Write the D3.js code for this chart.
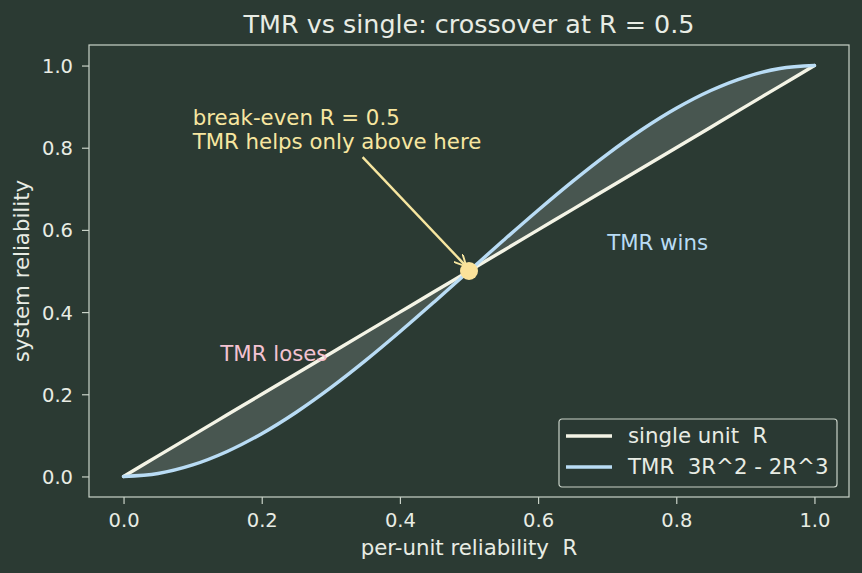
<!DOCTYPE html>
<html>
<head>
<meta charset="utf-8">
<script src="https://cdn.jsdelivr.net/npm/d3@7"></script>
<style>
  body { margin: 0; background: #2b3a33; }
  svg { display: block; font-family: "DejaVu Sans", sans-serif; }
  svg text { white-space: pre; }
</style>
</head>
<body>
<svg width="862" height="573"></svg>
<script>
// per-unit reliability samples and system reliability
var rValues = [0, 0.05, 0.1, 0.15, 0.2, 0.25, 0.3, 0.35, 0.4, 0.45, 0.5,
  0.55, 0.6, 0.65, 0.7, 0.75, 0.8, 0.85, 0.9, 0.95, 1];
var singleValues = [0, 0.05, 0.1, 0.15, 0.2, 0.25, 0.3, 0.35, 0.4, 0.45, 0.5,
  0.55, 0.6, 0.65, 0.7, 0.75, 0.8, 0.85, 0.9, 0.95, 1];
var tmrValues = [0, 0.00725, 0.028, 0.06075, 0.104, 0.15625, 0.216, 0.28175, 0.352, 0.42525, 0.5,
  0.57475, 0.648, 0.71825, 0.784, 0.84375, 0.896, 0.93925, 0.972, 0.99275, 1];
var xTicks = [0, 0.2, 0.4, 0.6, 0.8, 1.0];
var yTicks = [0, 0.2, 0.4, 0.6, 0.8, 1.0];
var seriesNames = ["single unit  R", "TMR  3R^2 - 2R^3"];
var breakEven = [0.5, 0.5];

var bg = "#2b3a33", fg = "#e8ece4", spine = "#c9d2c8";
var cSingle = "#f4f4e6", cTmr = "#b9dcf5", cNote = "#f7e6a0", cDot = "#fbe29a";
var fsTick = 19.5, fsLabel = 21.3, fsTitle = 25.4;

var svg = d3.select("svg"),
margin = {top: 45, right: 13, bottom: 76, left: 89},
width = +svg.attr("width") - margin.left - margin.right,
height = +svg.attr("height") - margin.top - margin.bottom,
g = svg.append("g").attr("transform", "translate(" + margin.left + "," + margin.top + ")");

svg.insert("rect", ":first-child").attr("width", 862).attr("height", 573).attr("fill", bg);

var x = d3.scaleLinear().domain([-0.05, 1.05]).range([0, width]);
var y = d3.scaleLinear().domain([-0.05, 1.05]).range([height, 0]);

var pts = rValues.map(function(r, i) { return {r: r, s: singleValues[i], t: tmrValues[i]}; });

// shaded gap between curves
g.append("path")
.datum(pts)
.attr("fill", "#e0eaea")
.attr("fill-opacity", 0.16)
.attr("d", d3.area()
  .x(function(d) { return x(d.r); })
  .y0(function(d) { return y(d.s); })
  .y1(function(d) { return y(d.t); })
  .curve(d3.curveCatmullRom));

var line = function(key) {
  return d3.line().x(function(d) { return x(d.r); }).y(function(d) { return y(d[key]); }).curve(d3.curveCatmullRom);
};

g.append("path").datum(pts).attr("fill", "none").attr("stroke", cSingle).attr("stroke-width", 3.4).attr("stroke-linecap", "round").attr("d", line("s"));
g.append("path").datum(pts).attr("fill", "none").attr("stroke", cTmr).attr("stroke-width", 3.4).attr("stroke-linecap", "round").attr("d", line("t"));

// axes
var xAxis = g.append("g").attr("transform", "translate(0," + height + ")")
.call(d3.axisBottom(x).tickValues(xTicks).tickFormat(d3.format(".1f")).tickSizeOuter(0).tickSize(7));
var yAxis = g.append("g")
.call(d3.axisLeft(y).tickValues(yTicks).tickFormat(d3.format(".1f")).tickSizeOuter(0).tickSize(7));
[xAxis, yAxis].forEach(function(a) {
  a.select(".domain").remove();
  a.selectAll("line").attr("stroke", spine).attr("stroke-width", 1.2);
  a.selectAll("text").attr("fill", fg).attr("font-size", fsTick).attr("font-family", "DejaVu Sans");
});
xAxis.selectAll("text").attr("y", 30).attr("dy", null);
yAxis.selectAll("text").attr("x", -16).attr("dy", "0.36em");

g.append("rect").attr("width", width).attr("height", height)
.attr("fill", "none").attr("stroke", spine).attr("stroke-width", 1.2);

// titles
svg.append("text").attr("x", margin.left + width / 2).attr("y", 33)
.attr("text-anchor", "middle").attr("fill", fg).attr("font-size", fsTitle)
.text("TMR vs single: crossover at R = 0.5");

svg.append("text").attr("x", margin.left + width / 2).attr("y", 555)
.attr("text-anchor", "middle").attr("fill", fg).attr("font-size", fsLabel)
.text("per-unit reliability  R");

svg.append("text").attr("transform", "translate(29," + (margin.top + height / 2) + ") rotate(-90)")
.attr("text-anchor", "middle").attr("fill", fg).attr("font-size", fsLabel)
.text("system reliability");

// region labels
g.append("text").attr("x", x(0.7)).attr("y", y(0.55)).attr("fill", cTmr).attr("font-size", fsLabel).text("TMR wins");
g.append("text").attr("x", x(0.14)).attr("y", y(0.28)).attr("fill", "#f3c3d2").attr("font-size", fsLabel).text("TMR loses");

// annotation
svg.append("defs").append("marker")
.attr("id", "arr").attr("viewBox", "0 0 10 10").attr("refX", 9).attr("refY", 5)
.attr("markerWidth", 5).attr("markerHeight", 5).attr("markerUnits", "strokeWidth").attr("orient", "auto")
.append("path").attr("d", "M0,0 L10,5 L0,10").attr("fill", "none").attr("stroke", cNote).attr("stroke-width", 1.6);

g.append("line")
.attr("x1", x(0.346)).attr("y1", y(0.777))
.attr("x2", x(0.495)).attr("y2", y(0.513))
.attr("stroke", cNote).attr("stroke-width", 2.4).attr("marker-end", "url(#arr)");

g.append("circle").attr("cx", x(breakEven[0])).attr("cy", y(breakEven[1])).attr("r", 9).attr("fill", cDot);

var note = g.append("text").attr("fill", cNote).attr("font-size", fsLabel);
note.append("tspan").attr("x", x(0.1)).attr("y", y(0.8) - 23).text("break-even R = 0.5");
note.append("tspan").attr("x", x(0.1)).attr("y", y(0.8) + 1.5).text("TMR helps only above here");

// legend
var lg = g.append("g").attr("transform", "translate(" + (width - 290) + "," + (height - 78) + ")");
lg.append("rect").attr("width", 278).attr("height", 68).attr("rx", 3)
.attr("fill", bg).attr("fill-opacity", 0.8).attr("stroke", spine).attr("stroke-width", 1.2);
[cSingle, cTmr].forEach(function(c, i) {
  var yy = 17 + i * 31;
  lg.append("line").attr("x1", 7).attr("x2", 53).attr("y1", yy).attr("y2", yy).attr("stroke", c).attr("stroke-width", 3.4);
  lg.append("text").attr("x", 69).attr("y", yy + 7).attr("fill", fg).attr("font-size", fsLabel).text(seriesNames[i]);
});
</script>
</body>
</html>
